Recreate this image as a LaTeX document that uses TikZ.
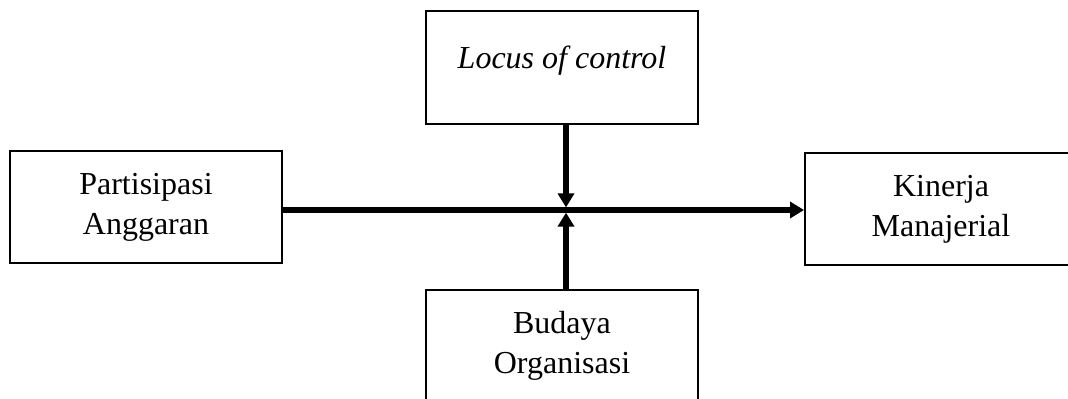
\documentclass[tikz,border=0pt]{standalone}
\usepackage{fontspec}
\setmainfont{Liberation Serif}
\usetikzlibrary{arrows.meta}
\tikzset{
  varbox/.style={draw=black, line width=1pt, minimum width=136pt, minimum height=56pt, align=center, inner sep=0pt, font=\fontsize{16}{20}\selectfont},
  link/.style={-{Triangle[length=7pt, width=8pt]}, line width=2.6pt, draw=black}
}

\begin{document}
\begin{tikzpicture}[x=0.5pt, y=-0.5pt]
  \useasboundingbox (0,0) rectangle (1068,398);
  \clip (0,0) rectangle (1068,398);

  \node[varbox] (partisipasi) at (146,207) {Partisipasi\\Anggaran};
  \node[varbox, text height=28.5pt, text depth=28pt, font=\fontsize{16}{20}\selectfont\itshape] (locus) at (562,67.5) {Locus of control};
  \node[varbox] (budaya) at (562,346) {Budaya\\Organisasi};
  \node[varbox] (kinerja) at (941,209) {Kinerja\\Manajerial};
  \coordinate (meet) at (566,210);

  \draw[link] (partisipasi.east |- meet) -- (kinerja.west |- meet);
  \draw[link, shorten >=1.3pt] (locus.south -| meet) -- (meet);
  \draw[link, shorten >=1.3pt] (budaya.north -| meet) -- (meet);
\end{tikzpicture}
\end{document}
